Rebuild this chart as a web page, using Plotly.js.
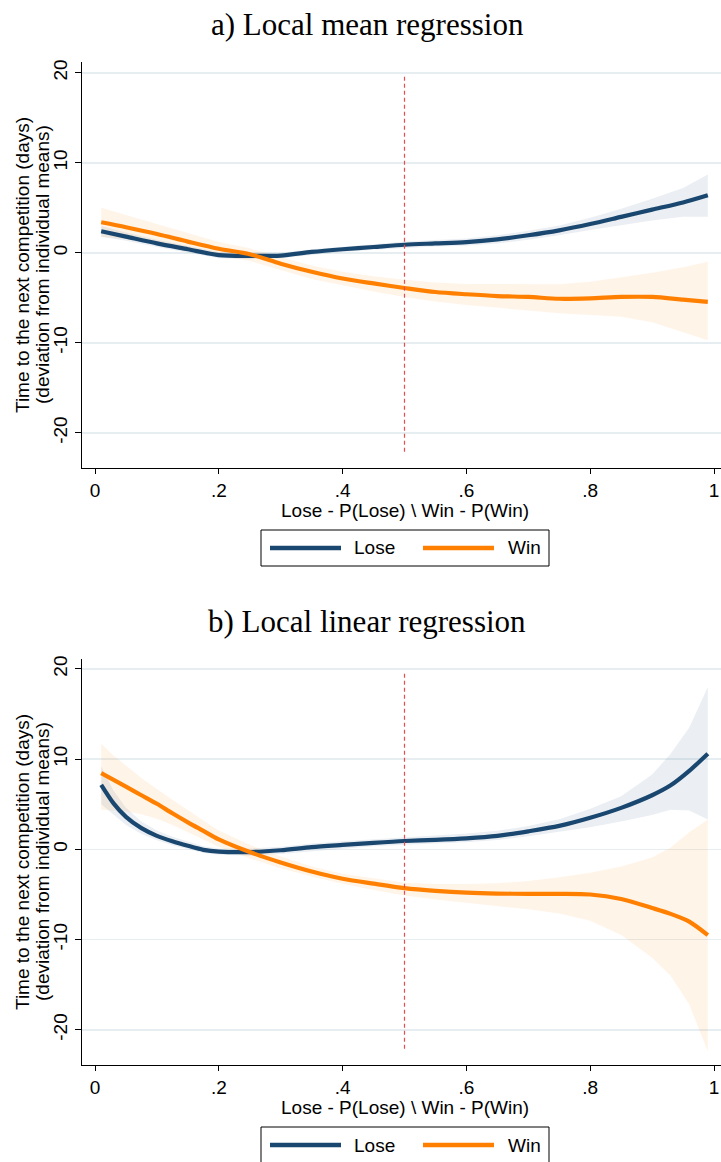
<!DOCTYPE html>
<html>
<head>
<meta charset="utf-8">
<script src="https://cdn.plot.ly/plotly-3.0.1.min.js"></script>
<style>
  html, body { margin: 0; padding: 0; background: #ffffff; }
  #chart { width: 721px; height: 1162px; }
</style>
</head>
<body>
<div id="chart"></div>
<script>
// ---- Panel a) local mean regression ----
const xTop = [0.01, 0.05, 0.1, 0.15, 0.2, 0.25, 0.3, 0.35, 0.4, 0.45, 0.5,
              0.55, 0.6, 0.65, 0.7, 0.75, 0.8, 0.85, 0.9, 0.95, 0.99];
const loseTop   = [2.4, 1.8, 1.05, 0.4, -0.25, -0.33, -0.3, 0.1, 0.4, 0.65, 0.9,
                   1.05, 1.2, 1.5, 1.95, 2.5, 3.2, 4.0, 4.8, 5.6, 6.4];
const loseTopLo = [1.8, 1.35, 0.65, 0.0, -0.6, -0.7, -0.6, -0.25, 0.1, 0.35, 0.55,
                   0.7, 0.8, 1.05, 1.45, 1.95, 2.55, 3.1, 3.6, 4.0, 4.0];
const loseTopHi = [3.0, 2.25, 1.45, 0.8, 0.1, 0.0, 0.0, 0.4, 0.7, 0.95, 1.25,
                   1.4, 1.6, 1.95, 2.45, 3.05, 3.9, 4.9, 6.0, 7.2, 8.7];
const winTop    = [3.4, 2.85, 2.1, 1.25, 0.45, -0.15, -1.2, -2.1, -2.85, -3.4, -3.9,
                   -4.35, -4.6, -4.8, -4.9, -5.1, -5.05, -4.9, -4.9, -5.2, -5.45];
const winTopLo  = [1.75, 1.5, 1.0, 0.4, -0.3, -0.9, -1.9, -2.9, -3.6, -4.3, -4.9,
                   -5.4, -5.8, -6.1, -6.4, -6.7, -6.9, -7.1, -7.7, -8.8, -9.7];
const winTopHi  = [5.0, 4.2, 3.2, 2.2, 1.2, 0.5, -0.5, -1.4, -2.1, -2.6, -3.0,
                   -3.3, -3.45, -3.5, -3.5, -3.5, -3.2, -2.7, -2.2, -1.6, -1.0];

// ---- Panel b) local linear regression ----
const xBot = [0.01, 0.03, 0.05, 0.075, 0.1, 0.125, 0.15, 0.175, 0.2, 0.25, 0.3, 0.35, 0.4,
              0.45, 0.5, 0.55, 0.6, 0.65, 0.7, 0.75, 0.8, 0.85, 0.9, 0.93, 0.96, 0.99];
const loseBot   = [7.15, 5.1, 3.6, 2.35, 1.5, 0.9, 0.4, -0.05, -0.25, -0.3, -0.1, 0.25, 0.5,
                   0.73, 0.93, 1.05, 1.22, 1.5, 2.0, 2.6, 3.5, 4.6, 6.0, 7.1, 8.7, 10.6];
const loseBotLo = [5.0, 3.9, 2.7, 1.7, 1.0, 0.45, 0.0, -0.4, -0.6, -0.7, -0.5, -0.2, 0.1,
                   0.35, 0.5, 0.65, 0.8, 1.05, 1.45, 1.95, 2.45, 3.1, 3.8, 4.4, 4.3, 3.3];
const loseBotHi = [9.2, 6.5, 4.6, 3.1, 2.1, 1.4, 0.85, 0.35, 0.1, 0.1, 0.3, 0.65, 0.9,
                   1.1, 1.35, 1.55, 1.75, 2.05, 2.6, 3.35, 4.5, 5.9, 8.3, 10.6, 13.5, 18.0];
const winBot    = [8.45, 7.7, 6.95, 6.0, 5.05, 4.0, 3.0, 2.05, 1.1, -0.3, -1.45, -2.45, -3.25,
                   -3.8, -4.3, -4.6, -4.8, -4.9, -4.93, -4.93, -5.0, -5.5, -6.5, -7.15, -8.0, -9.5];
const winBotLo  = [4.4, 4.3, 4.2, 3.9, 3.4, 2.7, 1.9, 1.1, 0.3, -1.0, -2.1, -3.0, -3.8,
                   -4.5, -5.1, -5.55, -5.9, -6.3, -6.65, -7.1, -7.9, -9.5, -12.0, -14.0, -17.2, -22.4];
const winBotHi  = [11.7, 10.4, 9.3, 7.9, 6.7, 5.5, 4.3, 3.2, 2.1, 0.5, -0.8, -1.9, -2.7,
                   -3.2, -3.7, -3.85, -3.85, -3.75, -3.5, -3.1, -2.6, -1.9, -0.9, 0.2, 1.9, 3.3];

// Threshold marker at 0.5
const cutX = [0.5, 0.5];
const cutY = [-22.1, 19.8];

// Axis ticks
const xTickVals = [0, 0.2, 0.4, 0.6, 0.8, 1];
const xTickText = ['0', '.2', '.4', '.6', '.8', '1'];
const yTickVals = [-20, -10, 0, 10, 20];
const yTickText = ['-20', '-10', '0', '10', '20'];

const seriesNames = ['Lose', 'Win'];
const panelTitles = ['a) Local mean regression', 'b) Local linear regression'];
const xTitle = 'Lose - P(Lose) \\ Win - P(Win)';
const yTitleLines = ['Time to the next competition (days)', '(deviation from individual means)'];

// ---- styling ----
const W = 721, H = 1162;
const NAVY = '#1a476f', ORANGE = '#ff8000';
const NAVY_BAND = 'rgba(26,71,111,0.085)', ORANGE_BAND = 'rgba(255,128,0,0.09)';
const SANS = 'Liberation Sans, Arial, Helvetica, sans-serif';
const SERIF = 'Liberation Serif, Times New Roman, serif';
const px = v => v / W;
const py = v => 1 - v / H;
const PANEL_SHIFT = 597;

function band(xs, lo, hi, color, xa, ya) {
  return {
    x: xs.concat(xs.slice().reverse()),
    y: lo.concat(hi.slice().reverse()),
    xaxis: xa, yaxis: ya,
    type: 'scatter', mode: 'lines', fill: 'toself', fillcolor: color,
    line: {width: 0, color: color}, hoverinfo: 'skip', showlegend: false
  };
}
function curve(xs, ys, color, name, xa, ya) {
  return {
    x: xs, y: ys, xaxis: xa, yaxis: ya, name: name,
    type: 'scatter', mode: 'lines',
    line: {color: color, width: 4.2, shape: 'spline', smoothing: 0.8},
    showlegend: false
  };
}
function cutLine(xa, ya) {
  return {
    x: cutX, y: cutY, xaxis: xa, yaxis: ya, type: 'scatter', mode: 'lines',
    line: {color: '#ea4a52', width: 1.2, dash: '4px,3px'},
    hoverinfo: 'skip', showlegend: false
  };
}

const traces = [
  band(xTop, loseTopLo, loseTopHi, NAVY_BAND, 'x', 'y'),
  band(xTop, winTopLo, winTopHi, ORANGE_BAND, 'x', 'y'),
  curve(xTop, loseTop, NAVY, seriesNames[0], 'x', 'y'),
  curve(xTop, winTop, ORANGE, seriesNames[1], 'x', 'y'),
  cutLine('x', 'y'),
  band(xBot, loseBotLo, loseBotHi, NAVY_BAND, 'x2', 'y2'),
  band(xBot, winBotLo, winBotHi, ORANGE_BAND, 'x2', 'y2'),
  curve(xBot, loseBot, NAVY, seriesNames[0], 'x2', 'y2'),
  curve(xBot, winBot, ORANGE, seriesNames[1], 'x2', 'y2'),
  cutLine('x2', 'y2')
];

function xAxis(anchor) {
  return {
    domain: [px(82), 1], range: [-0.021, 1.0113], anchor: anchor,
    showline: true, linecolor: '#000', linewidth: 1,
    ticks: 'outside', ticklen: 5, tickwidth: 1, tickcolor: '#000',
    tickvals: xTickVals, ticktext: xTickText,
    tickfont: {family: SANS, size: 19, color: '#000'},
    showgrid: false, zeroline: false, fixedrange: true
  };
}
function yAxis(anchor, top, bottom, rangeTop) {
  return {
    domain: [py(bottom), py(top)], range: [-23.9, rangeTop], anchor: anchor,
    showline: true, linecolor: '#000', linewidth: 1,
    ticks: 'outside', ticklen: 6, tickwidth: 1, tickcolor: '#000',
    tickvals: yTickVals, ticktext: yTickText, tickangle: -90,
    tickfont: {family: SANS, size: 19, color: '#000'},
    showgrid: true, gridcolor: '#e6eef1', gridwidth: 1.6,
    zeroline: false, fixedrange: true
  };
}

const shapes = [];
const annotations = [];
[0, 1].forEach(i => {
  const d = i * PANEL_SHIFT;
  // panel title
  annotations.push({
    xref: 'paper', yref: 'paper', x: px(367), y: py(24 + d),
    xanchor: 'center', yanchor: 'middle', showarrow: false,
    text: panelTitles[i], font: {family: SERIF, size: 31, color: '#000'}
  });
  // y-axis title, two lines
  yTitleLines.forEach((t, k) => {
    annotations.push({
      xref: 'paper', yref: 'paper', x: px(22 + 20 * k), y: py(265 + d),
      xanchor: 'center', yanchor: 'middle', textangle: -90, showarrow: false,
      text: t, font: {family: SANS, size: 19, color: '#000'}
    });
  });
  // x-axis title
  annotations.push({
    xref: 'paper', yref: 'paper', x: px(405), y: py(510 + d),
    xanchor: 'center', yanchor: 'middle', showarrow: false,
    text: xTitle, font: {family: SANS, size: 19, color: '#000'}
  });
  // legend box
  shapes.push({
    type: 'rect', xref: 'paper', yref: 'paper',
    x0: px(261), x1: px(549), y0: py(530 + d), y1: py(566 + d),
    line: {color: '#000', width: 1}, fillcolor: '#fff', layer: 'above'
  });
  const keys = [{x0: 270, x1: 341, tx: 352, c: NAVY}, {x0: 423, x1: 494, tx: 506, c: ORANGE}];
  keys.forEach((k, j) => {
    shapes.push({
      type: 'line', xref: 'paper', yref: 'paper',
      x0: px(k.x0), x1: px(k.x1), y0: py(548 + d), y1: py(548 + d),
      line: {color: k.c, width: 4.5}, layer: 'above'
    });
    annotations.push({
      xref: 'paper', yref: 'paper', x: px(k.tx), y: py(548 + d),
      xanchor: 'left', yanchor: 'middle', showarrow: false,
      text: seriesNames[j], font: {family: SANS, size: 19, color: '#000'}
    });
  });
});

const layout = {
  width: W, height: H,
  margin: {l: 0, r: 0, t: 0, b: 0},
  paper_bgcolor: '#fff', plot_bgcolor: '#fff',
  showlegend: false,
  xaxis: xAxis('y'),
  yaxis: yAxis('x', 62, 468, 21.2),
  xaxis2: xAxis('y2'),
  yaxis2: yAxis('x2', 659, 1065, 21.1),
  shapes: shapes,
  annotations: annotations
};

Plotly.newPlot('chart', traces, layout, {staticPlot: true, displayModeBar: false});
</script>
</body>
</html>
